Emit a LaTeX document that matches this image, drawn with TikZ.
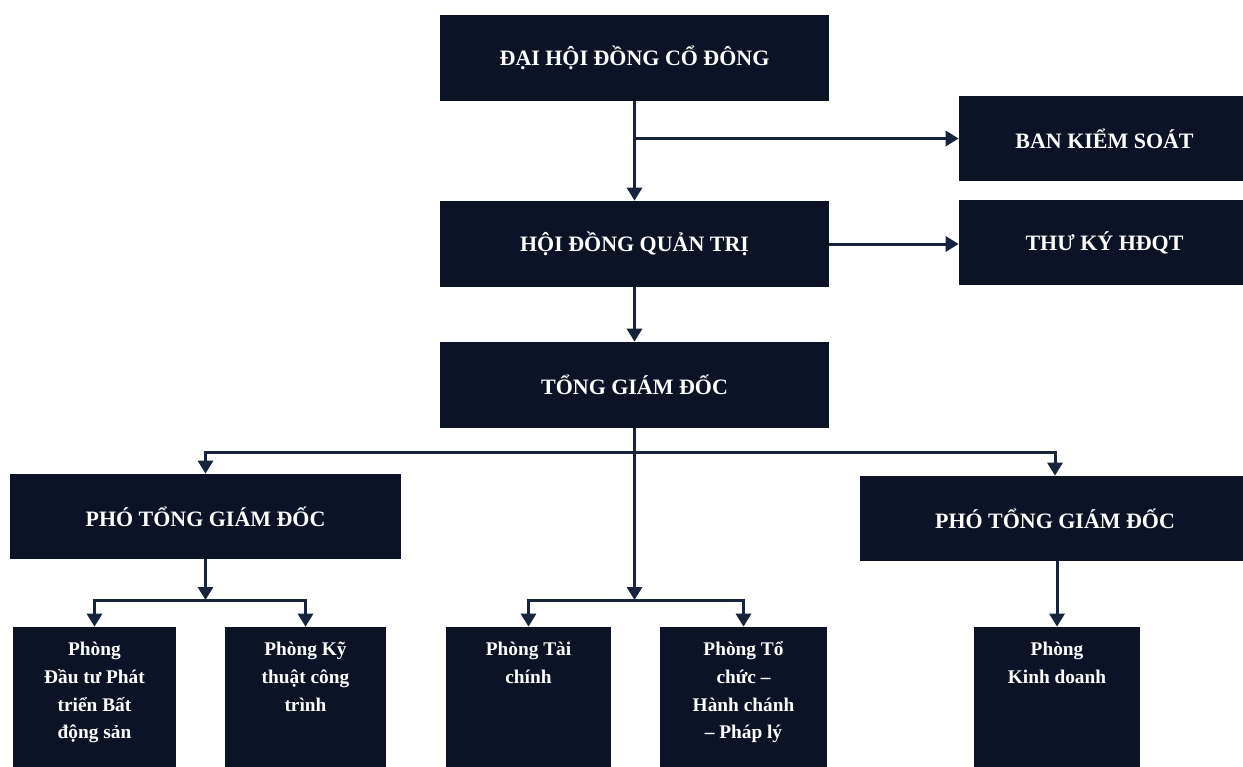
\documentclass[tikz,border=0pt]{standalone}
\usepackage{fontspec}
\setmainfont{Liberation Serif}
\usepackage{xcolor}
\definecolor{azulnoche}{RGB}{13,19,38}
\definecolor{azullinea}{RGB}{24,36,62}
\usetikzlibrary{arrows.meta, positioning}
\newcommand{\phongtxt}[1]{\parbox[c][2.96cm][t]{3.0cm}{\centering\vspace*{0.19cm}\strut #1}}
\tikzset{
  jefe/.style={fill=azulnoche, text=white, font=\fontsize{12.5}{15}\selectfont\bfseries,
    minimum height=1.72cm, inner sep=0pt},
  phong/.style={fill=azulnoche, text=white, font=\fontsize{11}{15.7}\selectfont\bfseries,
    inner sep=0pt},
  flecha/.style={draw=azullinea, line width=1.7pt, -{Triangle[length=0.26cm, width=0.3cm]}},
}
\begin{document}
\begin{tikzpicture}
            \useasboundingbox (0,0) rectangle (24.86,-15.32);
            \fill[white] (0,0) rectangle (24.86,-15.32);

            % Cap cao nhat
            \node[jefe, minimum width=7.78cm] (dhcd) at (12.69,-1.16) {ĐẠI HỘI ĐỒNG CỔ ĐÔNG};
            \node[jefe, minimum width=7.78cm] (hdqt) at (12.69,-4.88) {HỘI ĐỒNG QUẢN TRỊ};
            \node[jefe, minimum width=7.78cm] (tgd) at (12.69,-7.70) {TỔNG GIÁM ĐỐC};
            \node[jefe, minimum width=5.82cm, minimum height=1.70cm] (bks) at (22.09,-2.77) {BAN KIỂM SOÁT};
            \node[jefe, minimum width=5.82cm, minimum height=1.70cm] (tk) at (22.09,-4.85) {THƯ KÝ HĐQT};

            % Pho tong giam doc
            \node[jefe, minimum width=7.82cm, minimum height=1.70cm] (ptgd1) at (4.11,-10.33) {PHÓ TỔNG GIÁM ĐỐC};
            \node[jefe, minimum width=7.80cm, minimum height=1.70cm] (ptgd2) at (21.10,-10.37) {PHÓ TỔNG GIÁM ĐỐC};

            % Cac phong
            \node[phong, minimum width=3.26cm] (pdt) at (1.89,-14.02) {\phongtxt{Phòng\\Đầu tư Phát\\triển Bất\\động sản}};
            \node[phong, minimum width=3.22cm] (pkt) at (6.11,-14.02) {\phongtxt{Phòng Kỹ\\thuật công\\trình}};
            \node[phong, minimum width=3.30cm] (ptc) at (10.57,-14.02) {\phongtxt{Phòng Tài\\chính}};
            \node[phong, minimum width=3.34cm] (ptchc) at (14.87,-14.02) {\phongtxt{Phòng Tổ\\chức –\\Hành chánh\\– Pháp lý}};
            \node[phong, minimum width=3.32cm] (pkd) at (21.14,-14.02) {\phongtxt{Phòng\\Kinh doanh}};

            % Diem re nhanh
            \coordinate (nhanh1) at (12.69,-9.04);
            \coordinate (nhanh2) at (4.11,-12.0);
            \coordinate (nhanh3) at (12.69,-12.0);

            % Duong noi
            \draw[flecha] (dhcd.south) -- (hdqt.north);
            \draw[flecha] (dhcd.south |- bks.west) -- (bks.west);
            \draw[flecha] (hdqt.east) -- (hdqt.east -| tk.west);
            \draw[flecha] (hdqt.south) -- (tgd.north);
            \draw[flecha] (tgd.south) -- (nhanh3);
            \draw[flecha] (nhanh1) -| (ptgd1.north);
            \draw[flecha] (nhanh1) -| (ptgd2.north);
            \draw[flecha] (ptgd1.south) -- (nhanh2);
            \draw[flecha] (nhanh2) -| (pdt.north);
            \draw[flecha] (nhanh2) -| (pkt.north);
            \draw[flecha] (nhanh3) -| (ptc.north);
            \draw[flecha] (nhanh3) -| (ptchc.north);
            \draw[flecha] (ptgd2.south -| pkd.north) -- (pkd.north);
\end{tikzpicture}
\end{document}
